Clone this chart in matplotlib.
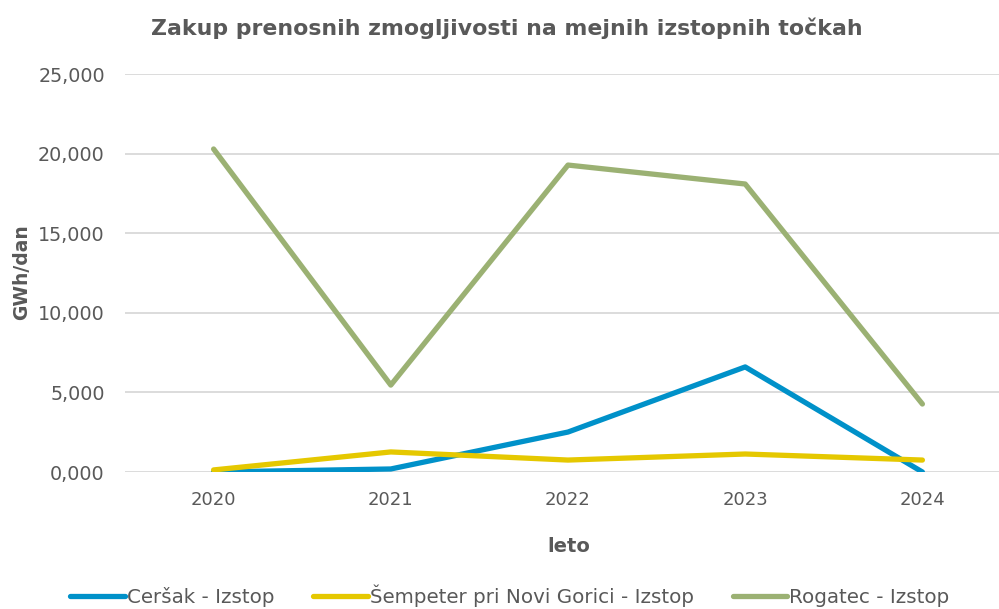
import matplotlib
matplotlib.use("Agg")
import matplotlib.pyplot as plt
from matplotlib.ticker import FuncFormatter

years = ["2020", "2021", "2022", "2023", "2024"]
cersak = [0.0, 0.19, 2.51, 6.6, 0.0]
sempeter = [0.13, 1.26, 0.75, 1.13, 0.75]
rogatec = [20.29, 5.46, 19.28, 18.09, 4.27]
series_names = ["Ceršak - Izstop", "Šempeter pri Novi Gorici - Izstop", "Rogatec - Izstop"]
yticks = [0, 5, 10, 15, 20, 25]

TXT = "#595959"
plt.rcParams["font.family"] = ["DejaVu Sans"]

fig = plt.figure(figsize=(9.99, 6.09), dpi=100)
W, H = 999, 609
ax = fig.add_axes([125 / W, 1 - 472 / H, (1011 - 125) / W, (472 - 74) / H])

x = range(len(years))
ax.plot(x, cersak, color="#0091C9", lw=3.8, label=series_names[0], solid_capstyle="round")
ax.plot(x, sempeter, color="#E5C800", lw=3.8, label=series_names[1], solid_capstyle="round")
ax.plot(x, rogatec, color="#9BB173", lw=3.8, label=series_names[2], solid_capstyle="round")

ax.set_xlim(-0.5, 4.5)
ax.set_ylim(0, 25)
ax.set_yticks(yticks)
ax.yaxis.set_major_formatter(FuncFormatter(lambda v, p: f"{v:.3f}".replace(".", ",")))
ax.set_xticks(list(x))
ax.set_xticklabels(years)
ax.grid(axis="y", color="#D9D9D9", lw=1.3)
ax.set_axisbelow(True)
for s in ax.spines.values():
    s.set_visible(False)
ax.tick_params(axis="y", length=0, labelsize=13.8, colors=TXT, pad=14.5)
ax.tick_params(axis="x", length=0, labelsize=13, colors=TXT, pad=14)

fig.text(507 / W, 1 - 28 / H, "Zakup prenosnih zmogljivosti na mejnih izstopnih točkah",
         ha="center", va="center", fontsize=15.8, fontweight="bold", color=TXT)
fig.text(22 / W, 1 - 272 / H, "GWh/dan", rotation=90, ha="center", va="center",
         fontsize=13.5, fontweight="bold", color=TXT)
fig.text(569 / W, 1 - 546 / H, "leto", ha="center", va="center",
         fontsize=14, fontweight="bold", color=TXT)

leg = fig.legend(loc="center", bbox_to_anchor=(510 / W, 1 - 596 / H), ncol=3, frameon=False,
                 fontsize=14.3, handlelength=2.75, handletextpad=0.1, columnspacing=1.95,
                 labelcolor=TXT, borderpad=0.2)

fig.savefig("out.png", dpi=100)
